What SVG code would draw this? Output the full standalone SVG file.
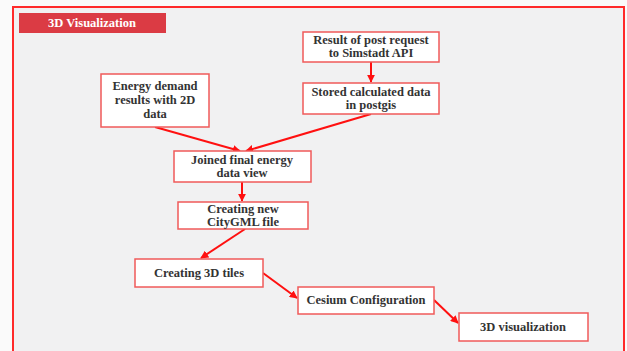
<svg xmlns="http://www.w3.org/2000/svg" width="627" height="351" viewBox="0 0 627 351">
<style>
.box{fill:#ffffff;stroke:#f05a5a;stroke-width:1.5}
.t{font-family:"Liberation Serif","DejaVu Serif",serif;font-weight:bold;font-size:12.5px;fill:#333333;text-anchor:middle}
.c{stroke:#ff1010;stroke-width:2;fill:none;marker-end:url(#ah)}
</style>
<defs>
<marker id="ah" viewBox="0 0 10 10" refX="9" refY="5" markerWidth="4" markerHeight="4" orient="auto" markerUnits="strokeWidth">
<path d="M0,0 L10,5 L0,10 z" fill="#ff1010"/>
</marker>
</defs>
<rect x="0" y="0" width="627" height="351" fill="#fafafa"/>
<rect x="13" y="7" width="611" height="350" fill="#f1f1f2" stroke="#ff2a2a" stroke-width="2"/>
<g id="title">
<rect x="19" y="13" width="147" height="20" fill="#db3b44"/>
<text x="92" y="27" class="t" style="fill:#ffffff">3D Visualization</text>
</g>
<g id="connectors">
<line class="c" x1="371" y1="62" x2="371" y2="82"/>
<line class="c" x1="155" y1="127" x2="240" y2="151"/>
<line class="c" x1="371" y1="114" x2="246" y2="151"/>
<line class="c" x1="242" y1="182" x2="242" y2="201"/>
<line class="c" x1="245" y1="229" x2="201" y2="258"/>
<line class="c" x1="263" y1="273" x2="297" y2="298"/>
<line class="c" x1="434" y1="300" x2="458" y2="323"/>
</g>
<g id="n1">
<rect class="box" x="303" y="32" width="136" height="30"/>
<text class="t" x="371" y="44">Result of post request</text>
<text class="t" x="371" y="57">to Simstadt API</text>
</g>
<g id="n2">
<rect class="box" x="303" y="83" width="136" height="31"/>
<text class="t" x="371" y="96">Stored calculated data</text>
<text class="t" x="371" y="109">in postgis</text>
</g>
<g id="n3">
<rect class="box" x="101" y="74" width="108" height="53"/>
<text class="t" x="155" y="90">Energy demand</text>
<text class="t" x="155" y="104">results with 2D</text>
<text class="t" x="155" y="118">data</text>
</g>
<g id="n4">
<rect class="box" x="174" y="151" width="137" height="31"/>
<text class="t" x="242" y="164">Joined final energy</text>
<text class="t" x="242" y="177">data view</text>
</g>
<g id="n5">
<rect class="box" x="178" y="202" width="130" height="27"/>
<text class="t" x="243" y="213">Creating new</text>
<text class="t" x="243" y="226">CityGML file</text>
</g>
<g id="n6">
<rect class="box" x="135" y="259" width="128" height="28"/>
<text class="t" x="199" y="277">Creating 3D tiles</text>
</g>
<g id="n7">
<rect class="box" x="298" y="287" width="136" height="27"/>
<text class="t" x="366" y="304">Cesium Configuration</text>
</g>
<g id="n8">
<rect class="box" x="459" y="313" width="129" height="28"/>
<text class="t" x="523" y="331">3D visualization</text>
</g>
</svg>
